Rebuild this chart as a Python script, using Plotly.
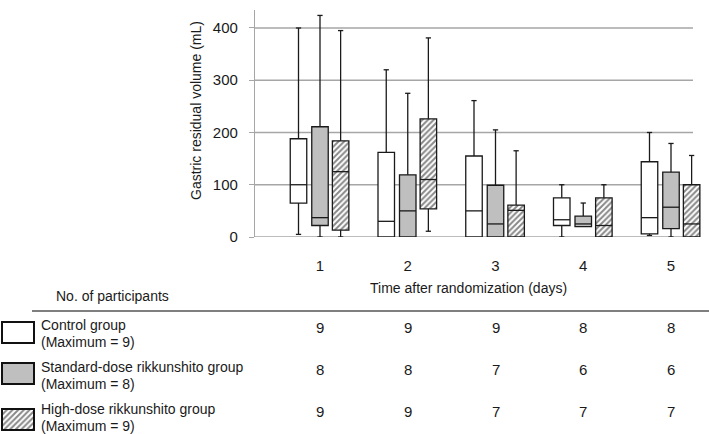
import plotly.graph_objects as go

# ---------------- data ----------------
days = [1, 2, 3, 4, 5]
day_labels = ["1", "2", "3", "4", "5"]

groups = ["Control group", "Standard-dose rikkunshito group", "High-dose rikkunshito group"]
group_max = ["(Maximum = 9)", "(Maximum = 8)", "(Maximum = 9)"]

control_min = [5, 0, 0, 0, 3]
control_q1 = [65, 0, 0, 22, 6]
control_med = [100, 30, 50, 33, 37]
control_q3 = [188, 162, 155, 75, 144]
control_max = [400, 320, 261, 100, 200]

standard_min = [0, 0, 0, 20, 0]
standard_q1 = [22, 0, 0, 20, 16]
standard_med = [37, 50, 25, 25, 57]
standard_q3 = [211, 119, 99, 40, 124]
standard_max = [424, 275, 205, 65, 179]

high_min = [0, 11, 0, 0, 0]
high_q1 = [13, 54, 0, 0, 0]
high_med = [125, 110, 51, 22, 25]
high_q3 = [184, 226, 61, 75, 100]
high_max = [395, 381, 165, 100, 156]

n_control = [9, 9, 9, 8, 8]
n_standard = [8, 8, 7, 6, 6]
n_high = [9, 9, 7, 7, 7]

y_ticks = [0, 100, 200, 300, 400]

# ---------------- style / layout ----------------
W, H = 709, 434          # design coordinates (target picture)
FIG_H = 442              # rendered page height compensation
FONT = "Liberation Sans, Arial, sans-serif"
TXT = "#1a1a1a"
LINE = "#1a1a1a"
GRID = "#a6a6a6"

def px(xp):
    return xp / W

def py(yp):
    return 1 - yp / H

plot_left, plot_right, plot_top, plot_bottom = 255, 705, 10, 237
grid_right = 693
x_range = [0.2593, 5.3875]
y_range = [0, 434.4]

box_w = 0.188
cap_w = 0.06
offsets = [-0.245, 0.0, 0.235]

hatch = dict(shape="/", fgcolor="#111111", bgcolor="white", size=4, solidity=0.5)

series = [
    dict(mn=control_min, q1=control_q1, md=control_med, q3=control_q3, mx=control_max,
         fill="white", pattern=None),
    dict(mn=standard_min, q1=standard_q1, md=standard_med, q3=standard_q3, mx=standard_max,
         fill="#bfbfbf", pattern=None),
    dict(mn=high_min, q1=high_q1, md=high_med, q3=high_q3, mx=high_max,
         fill="white", pattern=hatch),
]

fig = go.Figure()

for s, off in zip(series, offsets):
    xs = [d + off for d in days]
    marker = dict(color=s["fill"], line=dict(color=LINE, width=1.3))
    if s["pattern"]:
        marker["pattern"] = s["pattern"]
    fig.add_trace(go.Bar(
        x=xs, base=s["q1"], y=[b - a for a, b in zip(s["q1"], s["q3"])],
        width=box_w, marker=marker, showlegend=False, hoverinfo="skip",
        xaxis="x", yaxis="y"))
    wx, wy = [], []
    for x, mn, q1, md, q3, mx in zip(xs, s["mn"], s["q1"], s["md"], s["q3"], s["mx"]):
        wx += [x, x, None, x - cap_w / 2, x + cap_w / 2, None]
        wy += [q3, mx, None, mx, mx, None]
        if mn < q1:
            wx += [x, x, None, x - cap_w / 2, x + cap_w / 2, None]
            wy += [q1, mn, None, mn, mn, None]
        wx += [x - box_w / 2, x + box_w / 2, None]
        wy += [md, md, None]
    fig.add_trace(go.Scatter(x=wx, y=wy, mode="lines",
                             line=dict(color=LINE, width=1.3),
                             showlegend=False, hoverinfo="skip",
                             xaxis="x", yaxis="y"))

sw_tops = [322, 363, 409]
sw_h = 21
for s, top in zip(series, sw_tops):
    marker = dict(color=s["fill"], line=dict(color="#111111", width=2))
    if s["pattern"]:
        marker["pattern"] = s["pattern"]
    fig.add_trace(go.Bar(x=[18], base=[top], y=[sw_h], width=[32], marker=marker,
                         showlegend=False, hoverinfo="skip", xaxis="x2", yaxis="y2"))

shapes = []
for t in y_ticks:
    shapes.append(dict(type="line", xref="paper", yref="y", x0=px(plot_left), x1=px(grid_right),
                       y0=t, y1=t, line=dict(color=GRID, width=1.3), layer="below"))
shapes.append(dict(type="line", xref="paper", yref="paper", x0=px(32), x1=1,
                   y0=py(311), y1=py(311), line=dict(color="#555555", width=1.5)))

annotations = []
annotations.append(dict(text="Gastric residual volume (mL)", textangle=-90,
                        xref="paper", yref="paper", x=px(196), y=py(111),
                        xanchor="center", yanchor="middle", showarrow=False,
                        font=dict(size=14, color=TXT, family=FONT)))
annotations.append(dict(text="Time after randomization (days)", xref="paper", yref="paper",
                        x=px(468), y=py(288), xanchor="center", yanchor="middle",
                        showarrow=False, font=dict(size=14, color=TXT, family=FONT)))
annotations.append(dict(text="No. of participants", xref="paper", yref="paper",
                        x=px(54), y=py(296), xanchor="left", yanchor="middle",
                        showarrow=False, font=dict(size=14, color=TXT, family=FONT)))

row_lines = [(325, 342), (367, 384), (409, 426)]
for g, m, (y1, y2) in zip(groups, group_max, row_lines):
    annotations.append(dict(text=g, xref="paper", yref="paper", x=px(39), y=py(y1),
                            xanchor="left", yanchor="middle", showarrow=False,
                            font=dict(size=14, color=TXT, family=FONT)))
    annotations.append(dict(text=m, xref="paper", yref="paper", x=px(39), y=py(y2),
                            xanchor="left", yanchor="middle", showarrow=False,
                            font=dict(size=14, color=TXT, family=FONT)))

num_rows = [(n_control, 327), (n_standard, 369), (n_high, 411)]
for vals, yy in num_rows:
    for d, v in zip(days, vals):
        annotations.append(dict(text=str(v), xref="x", yref="paper", x=d, y=py(yy),
                                xanchor="center", yanchor="middle", showarrow=False,
                                font=dict(size=15, color=TXT, family=FONT)))

fig.update_layout(
    width=W, height=FIG_H, autosize=False,
    margin=dict(l=0, r=0, t=0, b=0),
    paper_bgcolor="white", plot_bgcolor="rgba(0,0,0,0)",
    barmode="overlay",
    font=dict(family=FONT, size=14, color=TXT),
    xaxis=dict(domain=[px(plot_left), px(plot_right)], range=x_range,
               tickvals=days, ticktext=day_labels, showgrid=False, zeroline=False,
               showline=False, ticks="", ticklabelstandoff=18,
               tickfont=dict(size=15, color=TXT, family=FONT), fixedrange=True),
    yaxis=dict(domain=[py(plot_bottom), py(plot_top)], range=y_range,
               tickvals=y_ticks, showgrid=False, zeroline=False,
               showline=True, linecolor=GRID, linewidth=1.3,
               ticks="outside", ticklen=5, tickcolor=GRID, tickwidth=1.3,
               ticklabelstandoff=8,
               tickfont=dict(size=15, color=TXT, family=FONT), fixedrange=True),
    xaxis2=dict(domain=[0, px(40)], range=[0, 40], visible=False, anchor="y2", fixedrange=True),
    yaxis2=dict(domain=[0, py(315)], range=[H, 315], visible=False, anchor="x2", fixedrange=True),
    shapes=shapes,
    annotations=annotations,
)

fig.write_html("out.html", config={"displayModeBar": False, "responsive": False},
               post_script="document.body.style.margin='0';")
